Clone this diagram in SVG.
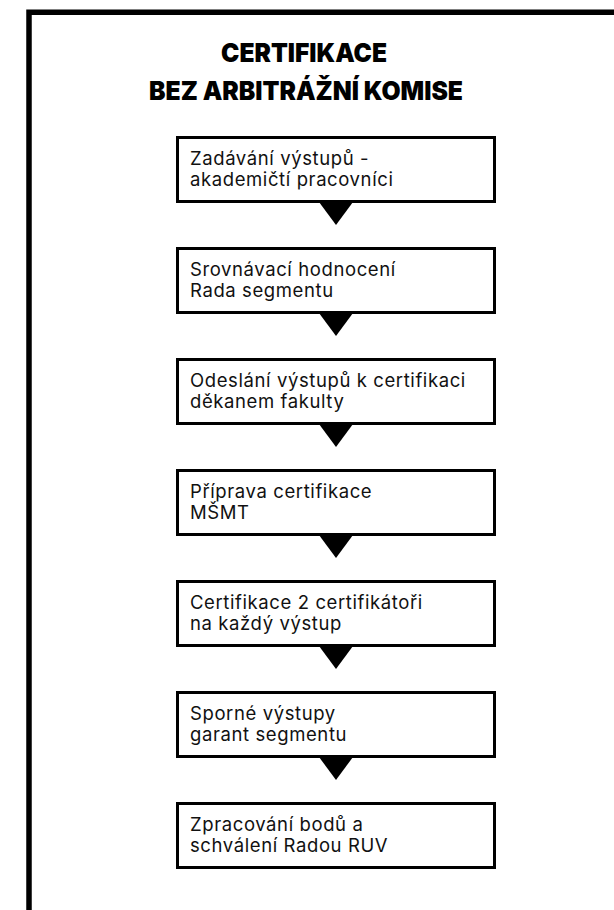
<svg xmlns="http://www.w3.org/2000/svg" width="614" height="910" viewBox="0 0 614 910">
<style>
.frame{fill:none;stroke:#000;stroke-width:5.5}
.box{fill:#fff;stroke:#000;stroke-width:3}
.t{font-family:Inter,"Liberation Sans",sans-serif;font-size:18.5px;letter-spacing:0.6px;fill:#111}
.title{font-family:Inter,"Liberation Sans",sans-serif;font-weight:900;font-size:26px;fill:#000;text-anchor:middle}
.arr{fill:#000}
</style>
<rect width="614" height="910" fill="#fff"/>
<path class="frame" d="M29,920 V12.3 H620"/>
<g id="title">
<text class="title" x="304" y="62" textLength="166" lengthAdjust="spacingAndGlyphs">CERTIFIKACE</text>
<text class="title" x="306" y="100" textLength="314" lengthAdjust="spacingAndGlyphs">BEZ ARBITRÁŽNÍ KOMISE</text>
</g>
<g id="connectors">
<polygon class="arr" points="319,202 353,202 336,225"/>
<polygon class="arr" points="319,313 353,313 336,336"/>
<polygon class="arr" points="319,424 353,424 336,447"/>
<polygon class="arr" points="319,535 353,535 336,558"/>
<polygon class="arr" points="319,646 353,646 336,669"/>
<polygon class="arr" points="319,757 353,757 336,780"/>
</g>
<g id="n1"><rect class="box" x="177.5" y="137.5" width="317" height="64"/>
<text class="t" x="190" y="165">Zadávání výstupů -</text><text class="t" x="190" y="186">akademičtí pracovníci</text></g>
<g id="n2"><rect class="box" x="177.5" y="248.5" width="317" height="64"/>
<text class="t" x="190" y="276">Srovnávací hodnocení</text><text class="t" x="190" y="297">Rada segmentu</text></g>
<g id="n3"><rect class="box" x="177.5" y="359.5" width="317" height="64"/>
<text class="t" x="190" y="387">Odeslání výstupů k certifikaci</text><text class="t" x="190" y="408">děkanem fakulty</text></g>
<g id="n4"><rect class="box" x="177.5" y="470.5" width="317" height="64"/>
<text class="t" x="190" y="498">Příprava certifikace</text><text class="t" x="190" y="519">MŠMT</text></g>
<g id="n5"><rect class="box" x="177.5" y="581.5" width="317" height="64"/>
<text class="t" x="190" y="609">Certifikace 2 certifikátoři</text><text class="t" x="190" y="630">na každý výstup</text></g>
<g id="n6"><rect class="box" x="177.5" y="692.5" width="317" height="64"/>
<text class="t" x="190" y="720">Sporné výstupy</text><text class="t" x="190" y="741">garant segmentu</text></g>
<g id="n7"><rect class="box" x="177.5" y="803.5" width="317" height="64"/>
<text class="t" x="190" y="831">Zpracování bodů a</text><text class="t" x="190" y="852">schválení Radou RUV</text></g>
</svg>
